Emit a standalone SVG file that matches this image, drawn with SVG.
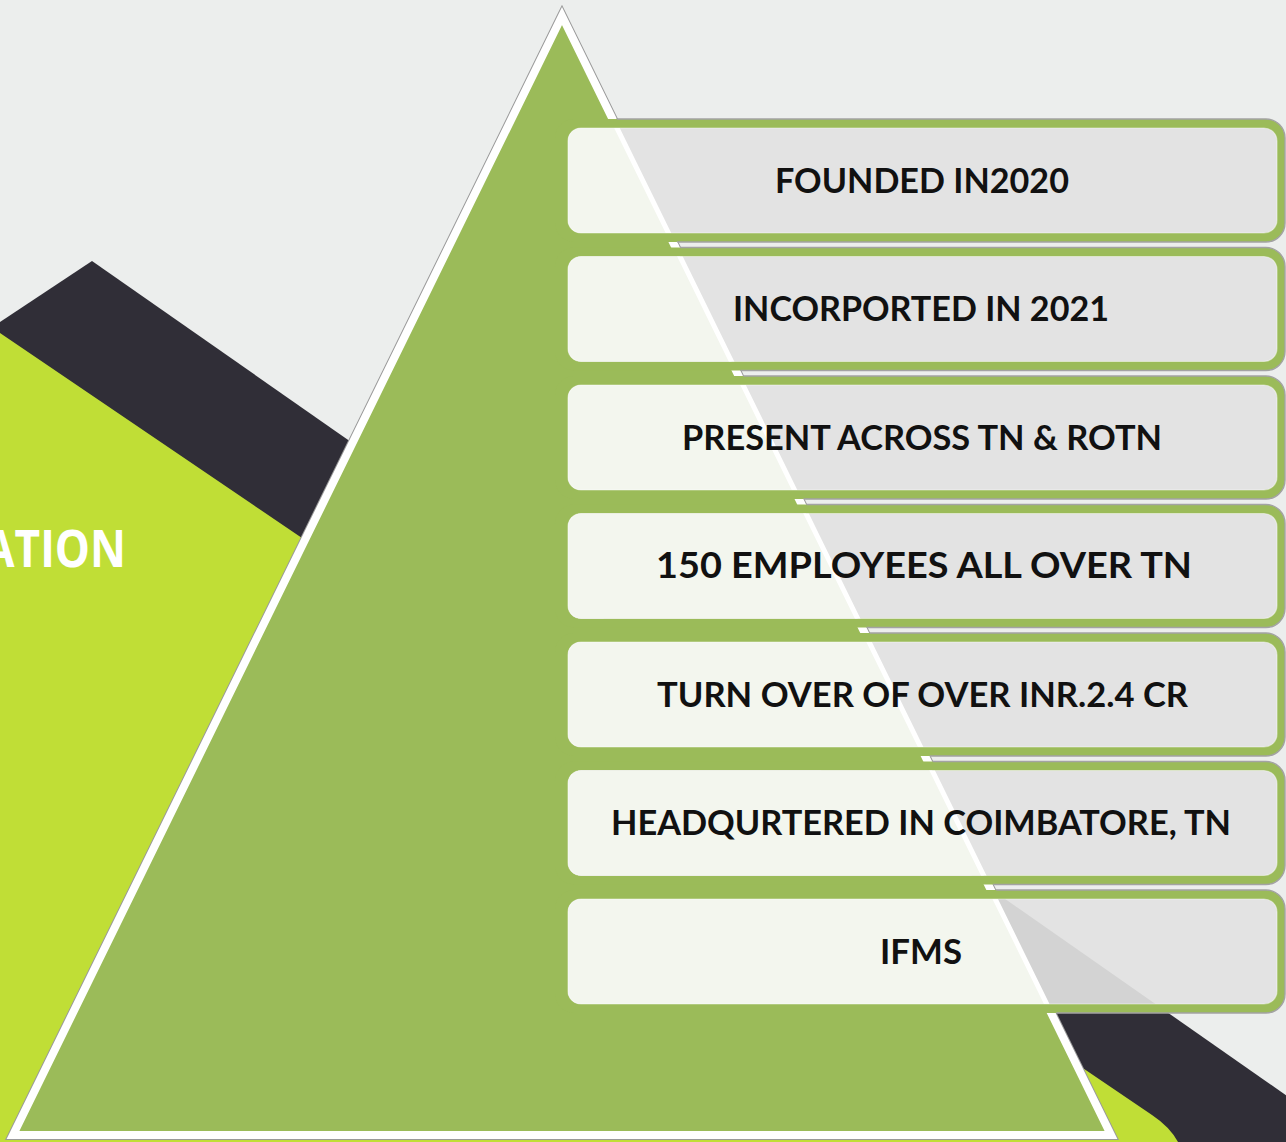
<svg xmlns="http://www.w3.org/2000/svg" xmlns:xlink="http://www.w3.org/1999/xlink" width="1286" height="1142" viewBox="0 0 1286 1142">
<style>
.outer{fill:#9BBB59;}
.outline{fill:none;stroke:#A3A3A3;stroke-width:1.4;}
.innerEdge{fill:none;stroke:#FFFFFF;stroke-opacity:0.45;stroke-width:1.2;}
.lbl{font-family:Lato,"Open Sans","Liberation Sans",sans-serif;font-weight:700;font-size:35px;fill:#111111;text-anchor:middle;}
</style>
<defs>
<clipPath id="outsideTri"><polygon points="562,0 562,8 1120,1142 1286,1142 1286,0"/></clipPath>
<g id="innerFill">
<rect x="500" y="100" width="800" height="950" fill="#E3E3E3"/>
<polygon points="0,322 92,261 1290,1098 1290,1142 0,1142" fill="#D3D3D3"/>
<polygon points="562,16 13,1135 1111,1135" fill="#F3F6EE" stroke="#FFFFFF" stroke-width="5" stroke-linejoin="miter"/>
</g>
<clipPath id="c1"><rect x="568" y="128" width="709" height="105" rx="13"/></clipPath>
<clipPath id="c2"><rect x="568" y="256.5" width="709" height="105" rx="13"/></clipPath>
<clipPath id="c3"><rect x="568" y="385" width="709" height="105" rx="13"/></clipPath>
<clipPath id="c4"><rect x="568" y="513.5" width="709" height="105" rx="13"/></clipPath>
<clipPath id="c5"><rect x="568" y="642" width="709" height="105" rx="13"/></clipPath>
<clipPath id="c6"><rect x="568" y="770.5" width="709" height="105" rx="13"/></clipPath>
<clipPath id="c7"><rect x="568" y="899" width="709" height="105" rx="13"/></clipPath>
</defs>

<g id="background">
<rect x="0" y="0" width="1286" height="1142" fill="#ECEEED"/>
<polygon points="0,322 92,261 1290,1098 1290,1142 0,1142" fill="#302E37"/>
<path d="M0,333 L1152,1115 Q1170,1127 1178,1142 L0,1142 Z" fill="#C0DE36"/>
<text x="-16" y="567" font-family="'Open Sans','Liberation Sans',sans-serif" font-weight="700" font-size="52" fill="#FFFFFF" textLength="142" lengthAdjust="spacingAndGlyphs">ATION</text>
</g>

<g id="pyramid">
<polygon points="562,16 13,1135 1111,1135" fill="#9A9A9A" stroke="#9A9A9A" stroke-width="10" stroke-linejoin="miter"/>
<polygon points="562,16 13,1135 1111,1135" fill="#9BBB59" stroke="#FFFFFF" stroke-width="8" stroke-linejoin="miter"/>
</g>

<g id="connectors"></g>

<g id="box1">
<rect class="outer" x="555" y="119" width="730" height="123" rx="19"/>
<rect class="outline" x="555" y="119" width="730" height="123" rx="19" clip-path="url(#outsideTri)"/>
<g clip-path="url(#c1)"><use xlink:href="#innerFill" href="#innerFill"/></g>
<rect class="innerEdge" x="568" y="128" width="709" height="105" rx="13"/>
<text class="lbl" x="922" y="193" textLength="294" lengthAdjust="spacingAndGlyphs">FOUNDED IN2020</text>
</g>

<g id="box2">
<rect class="outer" x="555" y="247.5" width="730" height="123" rx="19"/>
<rect class="outline" x="555" y="247.5" width="730" height="123" rx="19" clip-path="url(#outsideTri)"/>
<g clip-path="url(#c2)"><use xlink:href="#innerFill" href="#innerFill"/></g>
<rect class="innerEdge" x="568" y="256.5" width="709" height="105" rx="13"/>
<text class="lbl" x="921" y="321" textLength="376" lengthAdjust="spacingAndGlyphs">INCORPORTED IN 2021</text>
</g>

<g id="box3">
<rect class="outer" x="555" y="376" width="730" height="123" rx="19"/>
<rect class="outline" x="555" y="376" width="730" height="123" rx="19" clip-path="url(#outsideTri)"/>
<g clip-path="url(#c3)"><use xlink:href="#innerFill" href="#innerFill"/></g>
<rect class="innerEdge" x="568" y="385" width="709" height="105" rx="13"/>
<text class="lbl" x="922" y="450" textLength="480" lengthAdjust="spacingAndGlyphs">PRESENT ACROSS TN &amp; ROTN</text>
</g>

<g id="box4">
<rect class="outer" x="555" y="504.5" width="730" height="123" rx="19"/>
<rect class="outline" x="555" y="504.5" width="730" height="123" rx="19" clip-path="url(#outsideTri)"/>
<g clip-path="url(#c4)"><use xlink:href="#innerFill" href="#innerFill"/></g>
<rect class="innerEdge" x="568" y="513.5" width="709" height="105" rx="13"/>
<text class="lbl" x="924" y="578" font-size="37" style="font-size:37px" textLength="536" lengthAdjust="spacingAndGlyphs">150 EMPLOYEES ALL OVER TN</text>
</g>

<g id="box5">
<rect class="outer" x="555" y="633" width="730" height="123" rx="19"/>
<rect class="outline" x="555" y="633" width="730" height="123" rx="19" clip-path="url(#outsideTri)"/>
<g clip-path="url(#c5)"><use xlink:href="#innerFill" href="#innerFill"/></g>
<rect class="innerEdge" x="568" y="642" width="709" height="105" rx="13"/>
<text class="lbl" x="922.5" y="707" textLength="531" lengthAdjust="spacingAndGlyphs">TURN OVER OF OVER INR.2.4 CR</text>
</g>

<g id="box6">
<rect class="outer" x="555" y="761.5" width="730" height="123" rx="19"/>
<rect class="outline" x="555" y="761.5" width="730" height="123" rx="19" clip-path="url(#outsideTri)"/>
<g clip-path="url(#c6)"><use xlink:href="#innerFill" href="#innerFill"/></g>
<rect class="innerEdge" x="568" y="770.5" width="709" height="105" rx="13"/>
<text class="lbl" x="921" y="835" textLength="620" lengthAdjust="spacingAndGlyphs">HEADQURTERED IN COIMBATORE, TN</text>
</g>

<g id="box7">
<rect class="outer" x="555" y="890" width="730" height="123" rx="19"/>
<rect class="outline" x="555" y="890" width="730" height="123" rx="19" clip-path="url(#outsideTri)"/>
<g clip-path="url(#c7)"><use xlink:href="#innerFill" href="#innerFill"/></g>
<rect class="innerEdge" x="568" y="899" width="709" height="105" rx="13"/>
<text class="lbl" x="921" y="964" textLength="82" lengthAdjust="spacingAndGlyphs">IFMS</text>
</g>
</svg>
